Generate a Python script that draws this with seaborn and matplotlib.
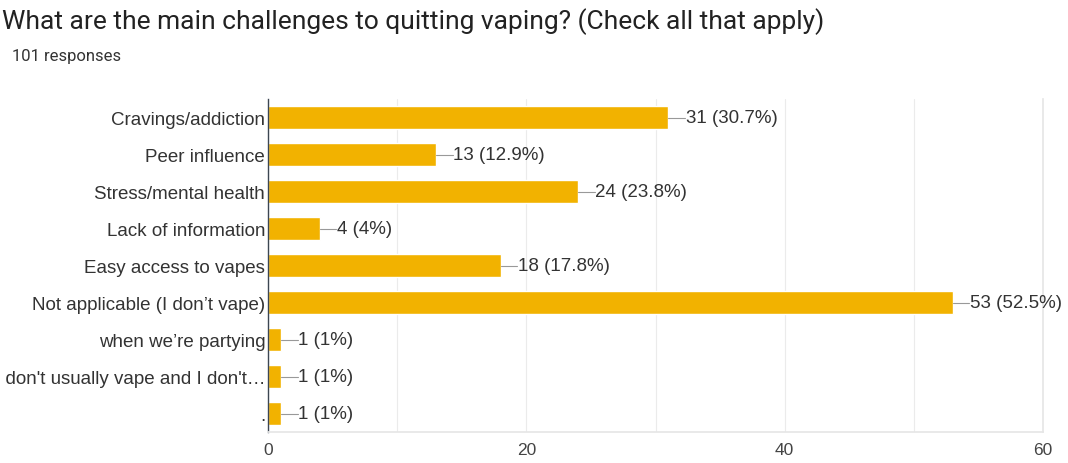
import matplotlib
matplotlib.use("Agg")
import matplotlib.pyplot as plt
import seaborn as sns
import pandas as pd
import numpy as np

categories = [
    "Cravings/addiction",
    "Peer influence",
    "Stress/mental health",
    "Lack of information",
    "Easy access to vapes",
    "Not applicable (I don\u2019t vape)",
    "when we\u2019re partying",
    "I don't usually vape and I don't\u2026",
    ".",
]
counts = [31, 13, 24, 4, 18, 53, 1, 1, 1]
percents = ["30.7%", "12.9%", "23.8%", "4%", "17.8%", "52.5%", "1%", "1%", "1%"]
xticks = [0, 20, 40, 60]

df = pd.DataFrame({"cat": categories, "n": counts})

sns.set_theme(style="white")
plt.rcParams["font.family"] = ["Liberation Sans", "DejaVu Sans"]

fig = plt.figure(figsize=(10.68, 4.64), dpi=100)
ax = fig.add_axes([268 / 1068, 1 - 433 / 464, (1043 - 268) / 1068, (433 - 100) / 464])

bar_color = "#F2B200"
sns.barplot(data=df, y="cat", x="n", orient="h", color=bar_color, width=0.6,
            saturation=1, ax=ax)

ax.set_xlim(0, 60)
ax.set_ylim(len(categories) - 0.5, -0.5)
ax.set_xticks(xticks)
ax.set_xticklabels([str(t) for t in xticks], fontsize=12.5, color="#444444")
ax.set_xticks(np.arange(0, 61, 10), minor=True)
ax.grid(axis="x", which="both", color="#EBEBEB", linewidth=0.8)
ax.set_axisbelow(True)
ax.tick_params(axis="y", labelsize=13.5, labelcolor="#333333", length=0, pad=2)
ax.tick_params(axis="x", length=0, pad=7)
ax.set_xlabel("")
ax.set_ylabel("")

for s in ["top"]:
    ax.spines[s].set_visible(False)
ax.spines["right"].set_color("#E6E6E6")
ax.spines["bottom"].set_color("#E6E6E6")
ax.spines["left"].set_color("#3C4652")
ax.spines["left"].set_linewidth(1.0)

for i, (n, p) in enumerate(zip(counts, percents)):
    ax.plot([n, n + 1.3], [i, i], color="#999999", linewidth=0.8, clip_on=False)
    ax.text(n + 1.35, i, f"{n} ({p})", va="center", ha="left", fontsize=13.5,
            color="#333333", clip_on=False)

fig.text(0.002, 1 - 22 / 464, "What are the main challenges to quitting vaping? (Check all that apply)",
         fontsize=19, family="Roboto", color="#222222", va="center", ha="left")
fig.text(0.011, 1 - 57 / 464, "101 responses", fontsize=12, family="Roboto",
         color="#333333", va="center", ha="left")

fig.savefig("out.png", dpi=100, facecolor="white")
